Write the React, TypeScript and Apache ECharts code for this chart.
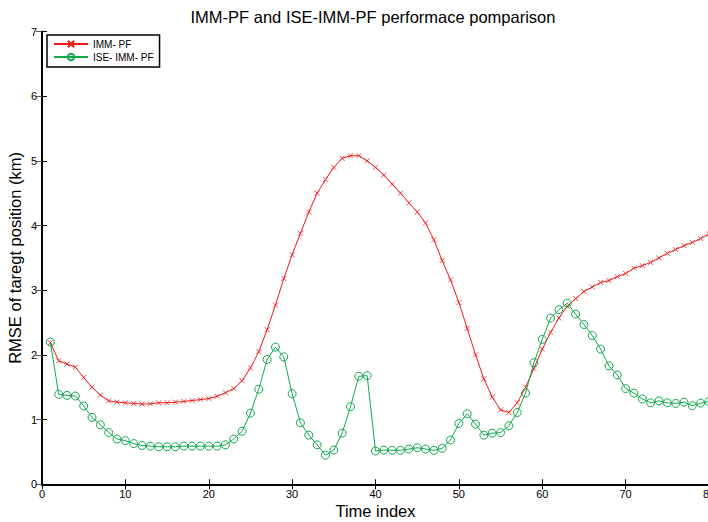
import React, { useEffect, useRef } from "react";
import * as echarts from "echarts";

const timeIndex: number[] = Array.from({ length: 80 }, (_, i) => i + 1);

const immPF: number[] = [
  2.19, 1.91, 1.86, 1.81, 1.65, 1.5, 1.38, 1.29, 1.27, 1.26,
  1.25, 1.24, 1.245, 1.26, 1.26, 1.27, 1.28, 1.295, 1.31, 1.325,
  1.36, 1.415, 1.48, 1.6, 1.8, 2.05, 2.39, 2.77, 3.18, 3.55,
  3.88, 4.21, 4.5, 4.71, 4.9, 5.04, 5.08, 5.08, 5.0, 4.9,
  4.78, 4.64, 4.5, 4.35, 4.21, 4.04, 3.78, 3.46, 3.16, 2.81,
  2.41, 2.0, 1.63, 1.35, 1.15, 1.11, 1.26, 1.5, 1.79, 2.09,
  2.35, 2.57, 2.75, 2.87, 2.98, 3.05, 3.12, 3.15, 3.21, 3.26,
  3.34, 3.38, 3.43, 3.5, 3.57, 3.63, 3.69, 3.74, 3.8, 3.87,
];

const iseImmPF: number[] = [
  2.2, 1.39, 1.375, 1.365, 1.21, 1.035, 0.92, 0.8, 0.7, 0.675,
  0.63, 0.6, 0.59, 0.58, 0.58, 0.58, 0.59, 0.59, 0.59, 0.59,
  0.59, 0.61, 0.7, 0.82, 1.1, 1.47, 1.93, 2.12, 1.97, 1.4,
  0.95, 0.76, 0.61, 0.45, 0.53, 0.79, 1.2, 1.67, 1.68, 0.515,
  0.53, 0.525, 0.525, 0.545, 0.565, 0.545, 0.525, 0.555, 0.685, 0.94,
  1.09, 0.93, 0.76, 0.79, 0.8, 0.905, 1.11, 1.41, 1.88, 2.24,
  2.57, 2.7, 2.8, 2.63, 2.47, 2.3, 2.09, 1.83, 1.69, 1.48,
  1.41, 1.32, 1.26, 1.29, 1.26, 1.25, 1.27, 1.215, 1.255, 1.28,
];

const xTicks = { min: 0, max: 80, interval: 10 };
const yTicks = { min: 0, max: 7, interval: 1 };

const RED = "#f01818";
const GREEN = "#12a84e";
const FONT = "Liberation Sans, Arial, sans-serif";

export default function App() {
  const ref = useRef<HTMLDivElement>(null);
  useEffect(() => {
    if (!ref.current) return;
    const chart = echarts.init(ref.current, null, { renderer: "svg" });
    const axisLine = { show: true, lineStyle: { color: "#000", width: 1 } };
    chart.setOption({
      animation: false,
      backgroundColor: "#fff",
      textStyle: { fontFamily: FONT },
      title: {
        text: "IMM-PF and ISE-IMM-PF performace pomparison",
        left: 368,
        top: 3,
        textAlign: "center",
        textStyle: { fontFamily: FONT, fontSize: 16.5, fontWeight: "normal", color: "#000" },
      },
      legend: {
        left: 47,
        top: 35,
        orient: "vertical",
        itemWidth: 34,
        itemHeight: 8,
        itemGap: 3,
        padding: [4, 6, 5, 6],
        borderColor: "#000",
        borderWidth: 1.5,
        backgroundColor: "#fff",
        textStyle: { fontFamily: FONT, fontSize: 10, color: "#000" },
        data: ["IMM- PF", "ISE- IMM- PF"],
      },
      grid: { left: 42, top: 31.5, width: 667, height: 452.8, outerBoundsMode: "none", containLabel: false },
      xAxis: [
        {
          type: "value",
          min: xTicks.min,
          max: xTicks.max,
          interval: xTicks.interval,
          name: "Time index",
          nameLocation: "middle",
          nameGap: 18,
          nameMoveOverlap: false,
          nameTextStyle: { fontFamily: FONT, fontSize: 16.5, color: "#000" },
          axisLine: { show: true, lineStyle: { color: "#000", width: 2 } },
          axisTick: { show: true, inside: true, length: 5, lineStyle: { color: "#000" } },
          axisLabel: { fontFamily: FONT, fontSize: 11, color: "#000", margin: 4 },
          splitLine: { show: false },
        },
        {
          type: "value",
          position: "top",
          min: xTicks.min,
          max: xTicks.max,
          interval: xTicks.interval,
          axisLine,
          axisTick: { show: true, inside: true, length: 5, lineStyle: { color: "#000" } },
          axisLabel: { show: false },
          splitLine: { show: false },
        },
      ],
      yAxis: [
        {
          type: "value",
          min: yTicks.min,
          max: yTicks.max,
          interval: yTicks.interval,
          name: "RMSE of taregt position (km)",
          nameLocation: "middle",
          nameGap: 19,
          nameMoveOverlap: false,
          nameTextStyle: { fontFamily: FONT, fontSize: 16.5, color: "#000" },
          axisLine: { show: true, lineStyle: { color: "#000", width: 2 } },
          axisTick: { show: true, inside: true, length: 5, lineStyle: { color: "#000" } },
          axisLabel: { fontFamily: FONT, fontSize: 11, color: "#000", margin: 5 },
          splitLine: { show: false },
        },
        {
          type: "value",
          position: "right",
          min: yTicks.min,
          max: yTicks.max,
          interval: yTicks.interval,
          axisLine,
          axisTick: { show: true, inside: true, length: 6, lineStyle: { color: "#555" } },
          axisLabel: { show: false },
          splitLine: { show: false },
        },
      ],
      series: [
        {
          name: "IMM- PF",
          type: "line",
          data: timeIndex.map((t, i) => [t, immPF[i]]),
          symbol: "path://M0,0L10,10M10,0L0,10",
          symbolSize: 5,
          showAllSymbol: true,
          lineStyle: { color: RED, width: 1 },
          itemStyle: { color: RED, borderColor: RED, borderWidth: 0.8 },
          z: 2,
        },
        {
          name: "ISE- IMM- PF",
          type: "line",
          data: timeIndex.map((t, i) => [t, iseImmPF[i]]),
          symbol: "circle",
          symbolSize: 8,
          showAllSymbol: true,
          lineStyle: { color: GREEN, width: 1 },
          itemStyle: { color: "rgba(255,255,255,0)", borderColor: GREEN, borderWidth: 1 },
          z: 3,
        },
      ],
    });
    return () => chart.dispose();
  }, []);
  return <div ref={ref} style={{ width: 708, height: 522, position: "fixed", left: 0, top: 0 }} />;
}
